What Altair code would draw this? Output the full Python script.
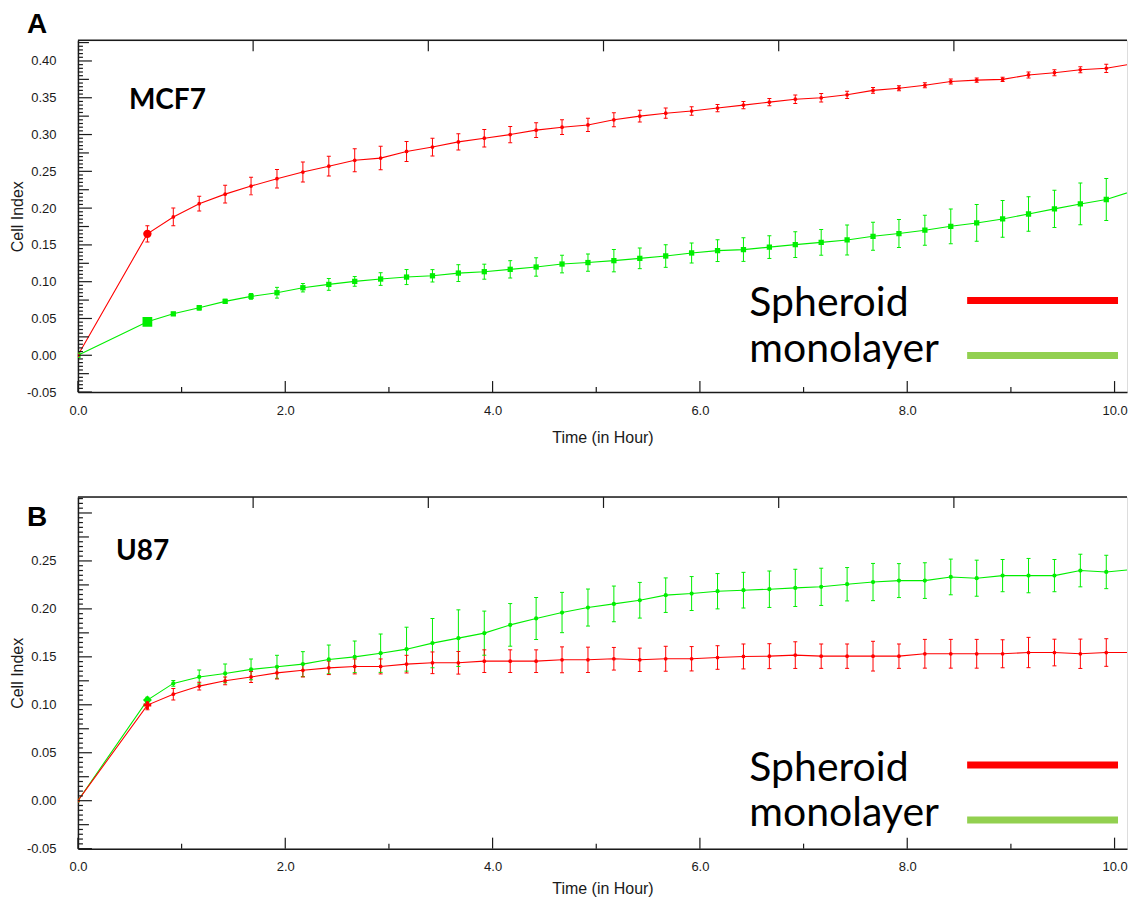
import altair as alt
import pandas as pd

# ---------------- data ----------------
T = [0.00, 0.67, 0.92, 1.17, 1.42, 1.67, 1.92, 2.17, 2.42, 2.67, 2.92, 3.17, 3.42, 3.67,
     3.92, 4.17, 4.42, 4.67, 4.92, 5.17, 5.42, 5.67, 5.92, 6.17, 6.42, 6.67, 6.92, 7.17,
     7.42, 7.67, 7.92, 8.17, 8.42, 8.67, 8.92, 9.17, 9.42, 9.67, 9.92, 10.17]

MCF7_SPHEROID = [0, 0.165, 0.188, 0.206, 0.219, 0.230, 0.240, 0.249, 0.257, 0.265, 0.268,
                 0.277, 0.283, 0.290, 0.295, 0.300, 0.306, 0.310, 0.313, 0.320, 0.325, 0.329,
                 0.332, 0.336, 0.340, 0.344, 0.348, 0.350, 0.354, 0.360, 0.363, 0.367, 0.372,
                 0.374, 0.375, 0.381, 0.384, 0.388, 0.390, 0.396]
MCF7_SPHEROID_ERR = [0, 0.011, 0.012, 0.010, 0.012, 0.012, 0.0125, 0.0136, 0.0134, 0.0157,
                     0.016, 0.0136, 0.012, 0.011, 0.012, 0.011, 0.010, 0.010, 0.009, 0.0095,
                     0.008, 0.007, 0.0057, 0.005, 0.0048, 0.005, 0.0057, 0.0057, 0.005, 0.004,
                     0.0034, 0.0034, 0.0034, 0.003, 0.003, 0.004, 0.004, 0.004, 0.0057, 0.0045]
MCF7_MONOLAYER = [0, 0.0455, 0.0564, 0.0646, 0.0732, 0.080, 0.085, 0.0918, 0.0963, 0.1004,
                  0.1036, 0.1063, 0.108, 0.1117, 0.1136, 0.1168, 0.120, 0.124, 0.126, 0.1286,
                  0.1317, 0.1349, 0.139, 0.1422, 0.1436, 0.147, 0.1504, 0.1535, 0.1567, 0.1617,
                  0.1654, 0.170, 0.1753, 0.1798, 0.1853, 0.192, 0.199, 0.2057, 0.2117, 0.223]
MCF7_MONOLAYER_ERR = [0, 0, 0.002, 0.003, 0.003, 0.004, 0.0073, 0.0057, 0.008, 0.0066,
                      0.0086, 0.0102, 0.0084, 0.0114, 0.0102, 0.0118, 0.0125, 0.012, 0.0118,
                      0.0152, 0.014, 0.0154, 0.0136, 0.0148, 0.016, 0.0154, 0.0175, 0.0175,
                      0.0204, 0.019, 0.019, 0.0204, 0.0236, 0.025, 0.025, 0.0236, 0.0254,
                      0.0284, 0.0286, 0.032]

U87_SPHEROID = [0, 0.0997, 0.111, 0.1195, 0.125, 0.129, 0.1333, 0.136, 0.1385, 0.140, 0.140,
                0.1424, 0.1438, 0.1438, 0.1455, 0.1455, 0.1455, 0.1469, 0.1469, 0.148, 0.1469,
                0.148, 0.148, 0.1493, 0.1504, 0.1507, 0.1518, 0.1507, 0.1507, 0.1507, 0.1507,
                0.1532, 0.1532, 0.1532, 0.1532, 0.1545, 0.1545, 0.1532, 0.1545, 0.1545]
U87_SPHEROID_ERR = [0, 0.005, 0.006, 0.004, 0.004, 0.0057, 0.0064, 0.007, 0.007, 0.0078,
                    0.0078, 0.0092, 0.0113, 0.0118, 0.0118, 0.0118, 0.0118, 0.0135, 0.0132,
                    0.0118, 0.0122, 0.013, 0.0127, 0.0123, 0.013, 0.013, 0.0139, 0.0127,
                    0.0127, 0.0155, 0.0127, 0.015, 0.015, 0.015, 0.0146, 0.0158, 0.0139,
                    0.0153, 0.0144, 0.0156]
U87_MONOLAYER = [0, 0.1049, 0.1223, 0.129, 0.1327, 0.1369, 0.1396, 0.1424, 0.1473, 0.150,
                 0.1538, 0.158, 0.1643, 0.1695, 0.1747, 0.1833, 0.190, 0.1962, 0.2014, 0.2052,
                 0.209, 0.2143, 0.216, 0.2184, 0.2195, 0.2205, 0.2219, 0.223, 0.2257, 0.228,
                 0.2295, 0.2295, 0.2333, 0.232, 0.2347, 0.2347, 0.2347, 0.240, 0.2385, 0.241]
U87_MONOLAYER_ERR = [0, 0.003, 0.003, 0.0073, 0.0097, 0.0108, 0.012, 0.013, 0.015, 0.0165,
                     0.02, 0.0229, 0.0257, 0.0295, 0.023, 0.0222, 0.0219, 0.021, 0.0193,
                     0.0186, 0.0186, 0.018, 0.0177, 0.0184, 0.0186, 0.019, 0.0194, 0.0194,
                     0.0174, 0.0194, 0.0177, 0.0186, 0.0186, 0.0188, 0.0168, 0.0179, 0.0168,
                     0.017, 0.0174, 0.02]

SERIES = ["Spheroid", "monolayer"]
X_LABELS = [0, 2, 4, 6, 8, 10]
X_MINOR = [1, 3, 5, 7, 9]
X_TOP = [1.69, 3.38, 5.07, 6.76, 8.45]
MCF7_Y_LABELS = [-0.05, 0.0, 0.05, 0.10, 0.15, 0.20, 0.25, 0.30, 0.35, 0.40]
U87_Y_LABELS = [-0.05, 0.0, 0.05, 0.10, 0.15, 0.20, 0.25]

# ---------------- styling ----------------
W, H = 1050, 352
X_MAX = 10.12
INK = "#1a1a1a"
RED = "#ff0000"
GREEN = "#00ee00"
LEG_GREEN = "#92d050"
AXF = "Liberation Sans"
CALF = "Lato"

ONE = pd.DataFrame({"a": [0]})


def y_ticks(top):
    major, mid, minor = [], [], []
    for k in range(-50, int(round(top * 1000)) + 1, 5):
        v = k / 1000
        if k % 50 == 0:
            major.append(v)
        elif k % 25 == 0:
            mid.append(v)
        else:
            minor.append(v)
    return major, mid, minor


def panel(sph, sph_err, mono, mono_err, y_top, tick_top, y_labels, name, name_pos,
          letter, letter_y, shapes, leg_dy, x_title_pad):
    rows = []
    for s, vals, errs in (("monolayer", mono, mono_err), ("Spheroid", sph, sph_err)):
        for i, (t, v, e) in enumerate(zip(T, vals, errs)):
            rows.append({"t": t, "v": v, "e": e, "lo": v - e, "hi": v + e, "s": s,
                         "big": i == 1})
    df = pd.DataFrame(rows)

    xs = alt.Scale(domain=[0, X_MAX], nice=False, zero=False)
    ys = alt.Scale(domain=[-0.05, y_top], nice=False, zero=False)
    x_axis = alt.Axis(
        values=X_LABELS, format=".1f", title="Time (in Hour)", grid=False,
        tickSize=0, labelPadding=12, labelFlush=False,
        domainColor=INK, domainWidth=1.5,
        labelFont=AXF, labelFontSize=13, labelColor=INK,
        titleFont=AXF, titleFontSize=16, titleFontWeight="normal", titleColor=INK,
        titlePadding=x_title_pad)
    y_axis = alt.Axis(
        values=y_labels, format=".2f", grid=False, tickSize=0, labelPadding=22,
        labelFlush=False, domainColor=INK, domainWidth=1.5,
        labelFont=AXF, labelFontSize=13, labelColor=INK,
        title="Cell Index", titleFont=AXF, titleFontSize=16, titleFontWeight="normal",
        titleColor=INK, titlePadding=1)

    def X(f):
        return alt.X(f, scale=xs, axis=x_axis)

    def Y(f):
        return alt.Y(f, scale=ys, axis=y_axis)

    col = alt.Color("s:N", scale=alt.Scale(domain=SERIES, range=[RED, GREEN]), legend=None)

    lines = alt.Chart(df).mark_line(strokeWidth=1.1, clip=True).encode(
        x=X("t:Q"), y=Y("v:Q"), color=col)

    flt = "datum.e > 0"
    bars = alt.Chart(df).transform_filter(flt).mark_rule(strokeWidth=1, clip=True).encode(
        x=X("t:Q"), y=Y("lo:Q"), y2="hi:Q", color=col)
    cap_lo = alt.Chart(df).transform_filter(flt).mark_tick(
        orient="horizontal", size=4, thickness=1, opacity=1, clip=True).encode(
        x=X("t:Q"), y=Y("lo:Q"), color=col)
    cap_hi = alt.Chart(df).transform_filter(flt).mark_tick(
        orient="horizontal", size=4, thickness=1, opacity=1, clip=True).encode(
        x=X("t:Q"), y=Y("hi:Q"), color=col)

    pts = []
    for s, c in (("monolayer", GREEN), ("Spheroid", RED)):
        shp, sz, bshp, bsz = shapes[s]
        pts.append(alt.Chart(df).transform_filter(
            f"datum.s == '{s}' && !datum.big").mark_point(
            filled=True, shape=shp, size=sz, opacity=1, color=c, clip=True).encode(
            x=X("t:Q"), y=Y("v:Q")))
        pts.append(alt.Chart(df).transform_filter(
            f"datum.s == '{s}' && datum.big").mark_point(
            filled=True, shape=bshp, size=bsz, opacity=1, color=c, clip=True).encode(
            x=X("t:Q"), y=Y("v:Q")))

    major, mid, minor = y_ticks(tick_top)

    def yrule(vals, length):
        return alt.Chart(pd.DataFrame({"v": vals})).mark_rule(
            color=INK, strokeWidth=1.2).encode(
            y=Y("v:Q"), x=alt.value(0), x2=alt.value(length))

    def xrule(vals, y0, y1):
        return alt.Chart(pd.DataFrame({"t": vals})).mark_rule(
            color=INK, strokeWidth=1.2).encode(
            x=X("t:Q"), y=alt.value(y0), y2=alt.value(y1))

    frame = [
        yrule(major, 14), yrule(mid, 11), yrule(minor, 5),
        xrule(X_LABELS, H, H - 11), xrule(X_MINOR, H, H - 5), xrule(X_TOP, 0, 11),
        alt.Chart(ONE).mark_rule(color=INK, strokeWidth=1.5).encode(
            x=alt.value(0), x2=alt.value(W), y=alt.value(0)),
    ]

    texts = [
        alt.Chart(ONE).mark_text(text=letter, font=AXF, fontSize=28, fontWeight="bold",
                                 align="center", baseline="alphabetic", color="black").encode(
            x=alt.value(-41), y=alt.value(letter_y)),
        alt.Chart(ONE).mark_text(text=name, font=CALF, fontSize=28, fontWeight="bold",
                                 align="left", baseline="alphabetic", color="black").encode(
            x=alt.value(name_pos[0]), y=alt.value(name_pos[1])),
        alt.Chart(ONE).mark_text(text="Spheroid", font=CALF, fontSize=41, align="left",
                                 baseline="alphabetic", color="black").encode(
            x=alt.value(672), y=alt.value(276 + leg_dy)),
        alt.Chart(ONE).mark_text(text="monolayer", font=CALF, fontSize=41, align="left",
                                 baseline="alphabetic", color="black").encode(
            x=alt.value(672), y=alt.value(321.7 + leg_dy)),
        alt.Chart(ONE).mark_rule(color=RED, strokeWidth=7).encode(
            x=alt.value(890), x2=alt.value(1041), y=alt.value(260.3 + leg_dy)),
        alt.Chart(ONE).mark_rule(color=LEG_GREEN, strokeWidth=7).encode(
            x=alt.value(890), x2=alt.value(1041), y=alt.value(315.3 + leg_dy)),
    ]

    return alt.layer(lines, bars, cap_lo, cap_hi, *pts, *frame, *texts).properties(
        width=W, height=H)


top = panel(MCF7_SPHEROID, MCF7_SPHEROID_ERR, MCF7_MONOLAYER, MCF7_MONOLAYER_ERR,
            0.428, 0.425, MCF7_Y_LABELS, "MCF7", (51, 69), "A", -7,
            {"Spheroid": ("circle", 14, "circle", 70),
             "monolayer": ("square", 28, "square", 95)}, 0, 12)
bottom = panel(U87_SPHEROID, U87_SPHEROID_ERR, U87_MONOLAYER, U87_MONOLAYER_ERR,
               0.3167, 0.315, U87_Y_LABELS, "U87", (38, 63), "B", 29,
               {"Spheroid": ("circle", 14, "cross", 60),
                "monolayer": ("circle", 18, "diamond", 80)}, 8, 7)

chart = alt.vconcat(top, bottom, spacing=49).properties(
    padding={"left": 0, "top": 2, "right": 0, "bottom": 0},
    background="white").configure_view(stroke=None).configure(
    locale={"number": {"decimal": ".", "thousands": ",", "grouping": [3],
                       "currency": ["$", ""], "minus": "-"}})

chart.save("out.html", embed_options={"renderer": "svg", "actions": False})
